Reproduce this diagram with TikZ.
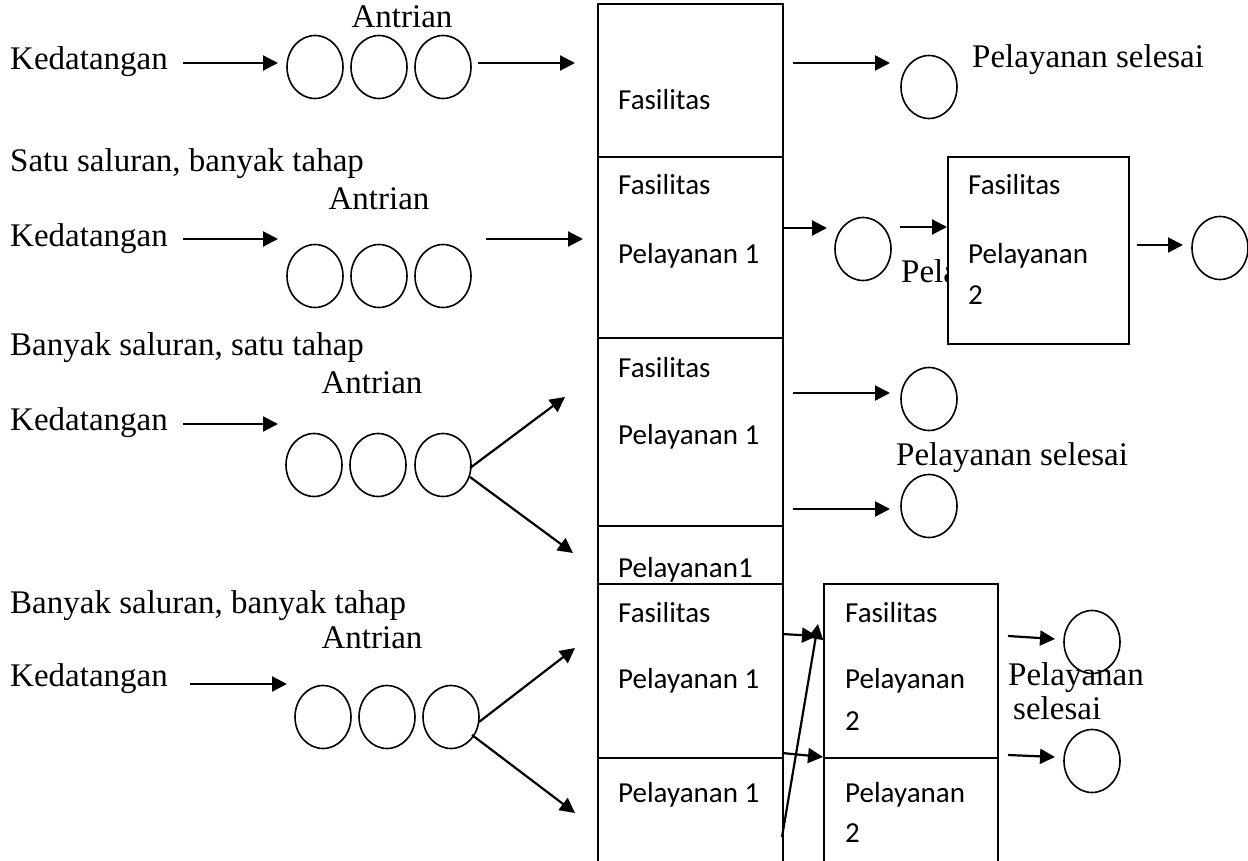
\documentclass[tikz,border=0pt]{standalone}
\usepackage{fontspec}
\setmainfont{Liberation Serif}
\newfontfamily\calib{Carlito}
\usetikzlibrary{arrows.meta,shapes.geometric}
\begin{document}
\begin{tikzpicture}[x=1pt,y=-1pt,
  serif/.style={inner sep=0pt, anchor=base west, font=\fontsize{33}{39}\selectfont},
  sans/.style={inner sep=0pt, anchor=base west, font=\calib\fontsize{29}{34}\selectfont},
  cust/.style={draw, ellipse, line width=1.6pt, minimum width=56pt, minimum height=63pt, inner sep=0pt},
  facility/.style={draw, line width=2pt, anchor=north west, inner sep=0pt, fill=white},
  flow/.style={line width=2.2pt, -{Triangle[length=15pt,width=15pt]}},
]
\useasboundingbox (0,0) rectangle (1248,861);
\clip (0,0) rectangle (1248,861);

% text partly hidden by the second-stage box of row 2
\node[serif] (s2) at (901,283) {Pela};

% facility boxes
\node[facility, minimum width=185pt, minimum height=153pt] (c1) at (597,3) {};
\node[facility, minimum width=185pt, minimum height=181pt] (c2) at (597,156) {};
\node[facility, minimum width=185pt, minimum height=188pt] (c3) at (597,337) {};
\node[facility, minimum width=185pt, minimum height=58pt] (c4) at (597,525) {};
\node[facility, minimum width=185pt, minimum height=174pt] (c5) at (597,583) {};
\node[facility, minimum width=185pt, minimum height=130pt] (c6) at (597,757) {};
\node[facility, minimum width=181pt, minimum height=187pt] (r2) at (947,156) {};
\node[facility, minimum width=174pt, minimum height=174pt] (r4a) at (823,583) {};
\node[facility, minimum width=174pt, minimum height=130pt] (r4b) at (823,757) {};

% texts in the facility boxes
\node[sans] (t1) at (618,110) {Fasilitas};
\node[sans] (t2a) at (618,195) {Fasilitas};
\node[sans] (t2b) at (618,263) {Pelayanan 1};
\node[sans] (t3a) at (618,377) {Fasilitas};
\node[sans] (t3b) at (618,444) {Pelayanan 1};
\node[sans] (t4) at (618,577) {Pelayanan1};
\node[sans] (t5a) at (618,622) {Fasilitas};
\node[sans] (t5b) at (618,688) {Pelayanan 1};
\node[sans] (t6) at (618,802) {Pelayanan 1};
\node[sans] (u2a) at (968,195) {Fasilitas};
\node[sans] (u2b) at (968,263) {Pelayanan};
\node[sans] (u2c) at (968,304) {2};
\node[sans] (u4a) at (845,622) {Fasilitas};
\node[sans] (u4b) at (845,688) {Pelayanan};
\node[sans] (u4c) at (845,730) {2};
\node[sans] (u4d) at (845,802) {Pelayanan};
\node[sans] (u4e) at (845,842) {2};

% serif labels
\node[serif] (h2) at (10,172) {Satu saluran, banyak tahap};
\node[serif] (h3) at (10,355) {Banyak saluran, satu tahap};
\node[serif] (h4) at (10,613) {Banyak saluran, banyak tahap};
\node[serif] (k1) at (10,70) {Kedatangan};
\node[serif] (k2) at (10,247) {Kedatangan};
\node[serif] (k3) at (10,430) {Kedatangan};
\node[serif] (k4) at (10,686) {Kedatangan};
\node[serif, anchor=base] (a1) at (402,28) {Antrian};
\node[serif, anchor=base] (a2) at (379,210) {Antrian};
\node[serif, anchor=base] (a3) at (372,393) {Antrian};
\node[serif, anchor=base] (a4) at (372,648) {Antrian};
\node[serif] (s1) at (972,68) {Pelayanan selesai};
\node[serif] (s3) at (896,465) {Pelayanan selesai};
\node[serif] (s4a) at (1008,685) {Pelayanan};
\node[serif] (s4b) at (1013,719) {selesai};

% customers
\node[cust] (q11) at (315,67) {};
\node[cust] (q12) at (379,67) {};
\node[cust] (q13) at (443,67) {};
\node[cust] (q21) at (315,276) {};
\node[cust] (q22) at (379,276) {};
\node[cust] (q23) at (443,276) {};
\node[cust] (q31) at (314,465) {};
\node[cust] (q32) at (378,465) {};
\node[cust] (q33) at (443,465) {};
\node[cust] (q41) at (323,717) {};
\node[cust] (q42) at (387,717) {};
\node[cust] (q43) at (451,717) {};
\node[cust] (o1) at (929,87) {};
\node[cust] (o2) at (863,249) {};
\node[cust] (o2b) at (1220,248) {};
\node[cust] (o3a) at (929,399) {};
\node[cust] (o3b) at (929,506) {};
\node[cust] (o4a) at (1092,642) {};
\node[cust] (o4b) at (1092,761) {};

% arrow end points
\coordinate (p1a) at (183,63);  \coordinate (p1b) at (278,63);
\coordinate (p1c) at (478,63);  \coordinate (p1d) at (575,63);
\coordinate (p1e) at (793,63);  \coordinate (p1f) at (890,63);
\coordinate (p2a) at (183,239); \coordinate (p2b) at (278,239);
\coordinate (p2c) at (486,239); \coordinate (p2d) at (583,239);
\coordinate (p2e) at (782,228); \coordinate (p2f) at (827,228);
\coordinate (p2g) at (900,227); \coordinate (p2h) at (947,227);
\coordinate (p2i) at (1137,245); \coordinate (p2j) at (1183,245);
\coordinate (p3a) at (183,424); \coordinate (p3b) at (278,424);
\coordinate (p3c) at (470,468); \coordinate (p3d) at (565,397);
\coordinate (p3e) at (470,477); \coordinate (p3f) at (573,553);
\coordinate (p3g) at (793,393); \coordinate (p3h) at (890,393);
\coordinate (p3i) at (793,509); \coordinate (p3j) at (890,509);
\coordinate (p4a) at (190,684); \coordinate (p4b) at (287,684);
\coordinate (p4c) at (479,722); \coordinate (p4d) at (575,648);
\coordinate (p4e) at (472,735); \coordinate (p4f) at (575,813);
\coordinate (p4g) at (782,634); \coordinate (p4h) at (817,636);
\coordinate (p4i) at (782,837); \coordinate (p4j) at (818,624);
\coordinate (p4k) at (782,753); \coordinate (p4l) at (823,757);
\coordinate (p4m) at (1008,636); \coordinate (p4n) at (1055,639);
\coordinate (p4o) at (1008,755); \coordinate (p4p) at (1055,757);

\draw[flow] (p1a) -- (p1b);
\draw[flow] (p1c) -- (p1d);
\draw[flow] (p1e) -- (p1f);
\draw[flow] (p2a) -- (p2b);
\draw[flow] (p2c) -- (p2d);
\draw[flow] (p2e) -- (p2f);
\draw[flow] (p2g) -- (p2h);
\draw[flow] (p2i) -- (p2j);
\draw[flow] (p3a) -- (p3b);
\draw[flow] (p3c) -- (p3d);
\draw[flow] (p3e) -- (p3f);
\draw[flow] (p3g) -- (p3h);
\draw[flow] (p3i) -- (p3j);
\draw[flow] (p4a) -- (p4b);
\draw[flow] (p4c) -- (p4d);
\draw[flow] (p4e) -- (p4f);
\draw[flow] (p4g) -- (p4h);
\draw[flow] (p4i) -- (p4j);
\draw[flow] (p4k) -- (p4l);
\draw[flow] (p4m) -- (p4n);
\draw[flow] (p4o) -- (p4p);
\end{tikzpicture}
\end{document}
